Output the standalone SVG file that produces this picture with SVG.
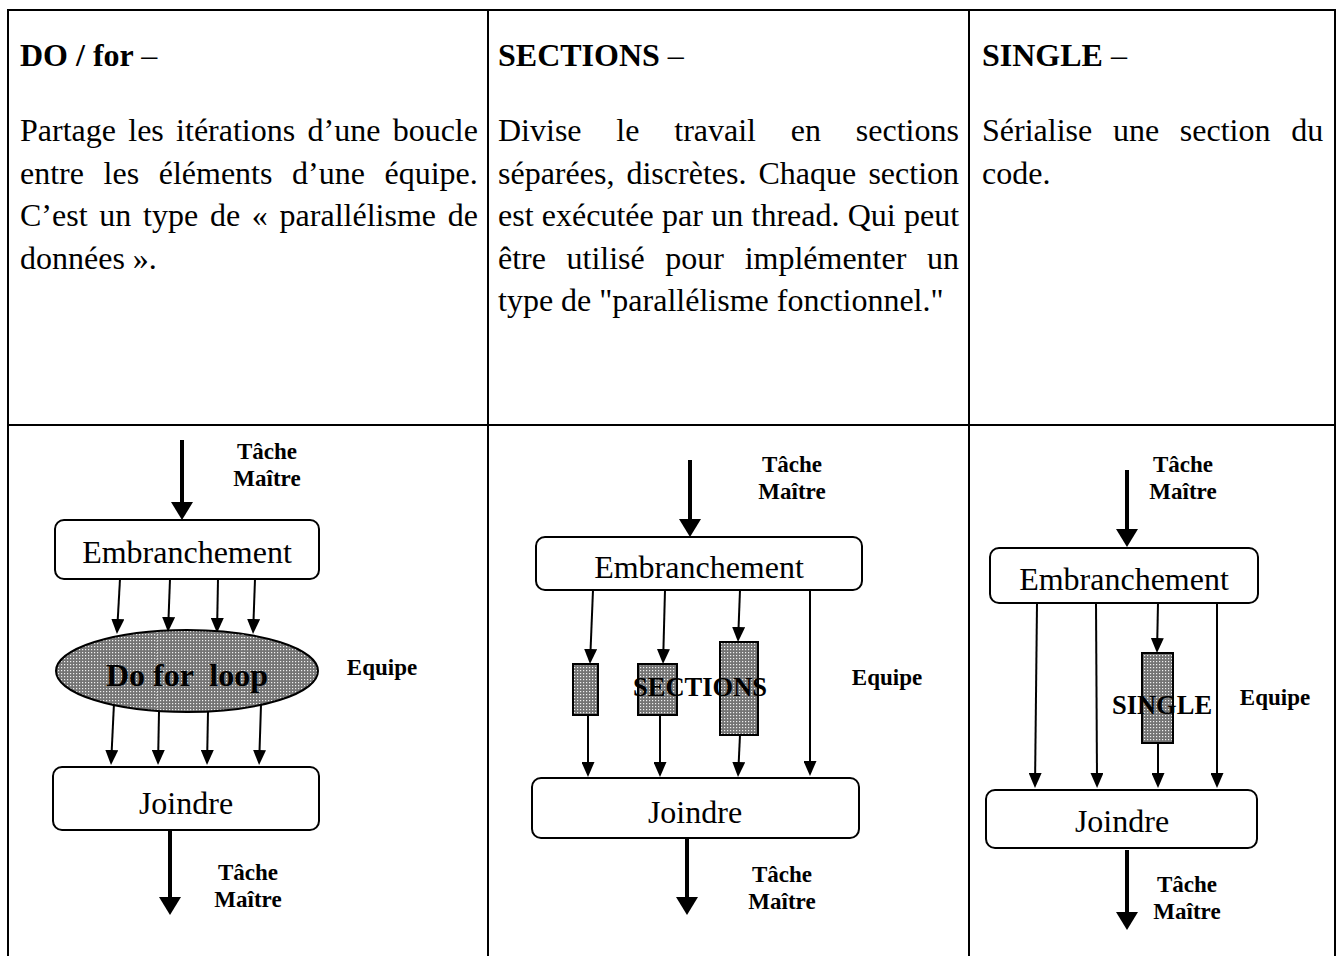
<svg xmlns="http://www.w3.org/2000/svg" width="1343" height="956" viewBox="0 0 1343 956">
  <style>
    .grid { stroke: #000; stroke-width: 2; fill: none; }
    .hd { font-family: "Liberation Serif", "Times New Roman", serif; font-size: 32px; font-weight: bold; fill: #000; }
    .tx { font-family: "Liberation Serif", "Times New Roman", serif; font-size: 32px; fill: #000; }
    .box { fill: #fff; stroke: #000; stroke-width: 2; }
    .lbl { font-family: "Liberation Serif", "Times New Roman", serif; font-size: 32px; fill: #000; text-anchor: middle; }
    .big { font-family: "Liberation Serif", "Times New Roman", serif; font-size: 32px; font-weight: bold; fill: #000; text-anchor: middle; }
    .mid { font-family: "Liberation Serif", "Times New Roman", serif; font-size: 26.5px; font-weight: bold; fill: #000; text-anchor: middle; }
    .sm { font-family: "Liberation Serif", "Times New Roman", serif; font-size: 23px; font-weight: bold; fill: #000; text-anchor: middle; }
    .shade { fill: url(#dots); stroke: #000; stroke-width: 2; }
    .thin { stroke: #000; stroke-width: 2; fill: none; marker-end: url(#head); }
    .thick { stroke: #000; stroke-width: 4; fill: none; marker-end: url(#headBig); }
    .trace { stroke: #fff; stroke-width: 1; stroke-dasharray: 1 2; opacity: 0.7; }
  </style>
  <defs>
    <pattern id="dots" width="3" height="3" patternUnits="userSpaceOnUse">
      <rect width="3" height="3" fill="#747474"/>
      <rect x="1" y="1" width="1.2" height="1.2" fill="#f0f0f0"/>
    </pattern>
    <marker id="head" viewBox="0 0 15 13" refX="5" refY="6.5" markerWidth="15" markerHeight="13" markerUnits="userSpaceOnUse" orient="auto">
      <path d="M0,0 L15,6.5 L0,13 Z" fill="#000"/>
    </marker>
    <marker id="headBig" viewBox="0 0 18 22" refX="6" refY="11" markerWidth="18" markerHeight="22" markerUnits="userSpaceOnUse" orient="auto">
      <path d="M0,0 L18,11 L0,22 Z" fill="#000"/>
    </marker>
  </defs>

  <rect width="1343" height="956" fill="#fff"/>

  <!-- table frame -->
  <g id="table">
    <path class="grid" d="M8,956 V10 H1335 V956 M8,425 H1335 M488,10 V956 M969,10 V956"/>
  </g>

  <!-- description row -->
  <g id="desc-do">
    <text class="hd" x="20" y="66">DO / for <tspan font-weight="normal">–</tspan></text>
    <text class="tx" x="20" y="141" word-spacing="4.3">Partage les itérations d’une boucle</text>
    <text class="tx" x="20" y="184" word-spacing="11.6">entre les éléments d’une équipe.</text>
    <text class="tx" x="20" y="226" word-spacing="3.75">C’est un type de « parallélisme de</text>
    <text class="tx" x="20" y="269">données ».</text>
  </g>
  <g id="desc-sections">
    <text class="hd" x="498" y="66">SECTIONS <tspan font-weight="normal">–</tspan></text>
    <text class="tx" x="498" y="141" word-spacing="26.8">Divise le travail en sections</text>
    <text class="tx" x="498" y="184" word-spacing="4.1">séparées, discrètes. Chaque section</text>
    <text class="tx" x="498" y="226" word-spacing="0.3">est exécutée par un thread. Qui peut</text>
    <text class="tx" x="498" y="269" word-spacing="12.6">être utilisé pour implémenter un</text>
    <text class="tx" x="498" y="311">type de "parallélisme fonctionnel."</text>
  </g>
  <g id="desc-single">
    <text class="hd" x="982" y="66">SINGLE <tspan font-weight="normal">–</tspan></text>
    <text class="tx" x="982" y="141" word-spacing="12.7">Sérialise une section du</text>
    <text class="tx" x="982" y="184">code.</text>
  </g>

  <!-- connectors -->
  <g id="connectors">
    <!-- DO / for -->
    <path class="thick" d="M182,440 V508"/>
    <path class="thin" d="M120,579 L117.5,624"/>
    <path class="thin" d="M170,579 L168.4,622"/>
    <path class="thin" d="M218,579 L217.2,623"/>
    <path class="thin" d="M255,579 L253.4,624"/>
    <path class="thin" d="M114,703 L111.5,755"/>
    <path class="thin" d="M159,712 L158.2,755"/>
    <path class="thin" d="M208,712 L207.2,755"/>
    <path class="thin" d="M261,705 L259.4,755"/>
    <path class="thick" d="M170,830 V903"/>
    <!-- SECTIONS -->
    <path class="thick" d="M690,460 V525"/>
    <path class="thin" d="M593,590 L590.4,654"/>
    <path class="thin" d="M665,590 L663.3,654"/>
    <path class="thin" d="M740,590 L738.4,632"/>
    <path class="thin" d="M810,590 V766"/>
    <path class="thin" d="M588,715 V767"/>
    <path class="thin" d="M660,715 V767"/>
    <path class="thin" d="M740,735 L738.5,767"/>
    <path class="thick" d="M687,838 V903"/>
    <!-- SINGLE -->
    <path class="thick" d="M1127,470 V535"/>
    <path class="thin" d="M1037,603 L1035.1,778"/>
    <path class="thin" d="M1096,603 L1097,778"/>
    <path class="thin" d="M1158,603 L1157.2,643"/>
    <path class="thin" d="M1217,603 V778"/>
    <path class="thin" d="M1158,743 V778"/>
    <path class="thick" d="M1127,850 V918"/>
  </g>

  <!-- DO / for diagram -->
  <g id="do-master-in">
    <text class="sm" x="267" y="459">Tâche</text>
    <text class="sm" x="267" y="486">Maître</text>
  </g>
  <g id="do-fork">
    <rect class="box" x="55" y="520" width="264" height="59" rx="9"/>
    <text class="lbl" x="187" y="563">Embranchement</text>
  </g>
  <g id="do-loop">
    <ellipse class="shade" cx="187" cy="671" rx="131" ry="41"/>
    <path class="trace" d="M157,632 V710 M243,634 V707"/>
    <text class="big" x="187" y="686" xml:space="preserve">Do for  loop</text>
  </g>
  <g id="do-team">
    <text class="sm" x="382" y="675">Equipe</text>
  </g>
  <g id="do-join">
    <rect class="box" x="53" y="767" width="266" height="63" rx="9"/>
    <text class="lbl" x="186" y="814">Joindre</text>
  </g>
  <g id="do-master-out">
    <text class="sm" x="248" y="880">Tâche</text>
    <text class="sm" x="248" y="907">Maître</text>
  </g>

  <!-- SECTIONS diagram -->
  <g id="sec-master-in">
    <text class="sm" x="792" y="472">Tâche</text>
    <text class="sm" x="792" y="499">Maître</text>
  </g>
  <g id="sec-fork">
    <rect class="box" x="536" y="537" width="326" height="53" rx="9"/>
    <text class="lbl" x="699" y="578">Embranchement</text>
  </g>
  <g id="sec-blocks">
    <rect class="shade" x="573" y="664" width="25" height="51"/>
    <rect class="shade" x="638" y="664" width="39" height="51"/>
    <rect class="shade" x="720" y="642" width="38" height="93"/>
    <text class="mid" x="700" y="696">SECTIONS</text>
  </g>
  <g id="sec-team">
    <text class="sm" x="887" y="685">Equipe</text>
  </g>
  <g id="sec-join">
    <rect class="box" x="532" y="778" width="327" height="60" rx="9"/>
    <text class="lbl" x="695" y="823">Joindre</text>
  </g>
  <g id="sec-master-out">
    <text class="sm" x="782" y="882">Tâche</text>
    <text class="sm" x="782" y="909">Maître</text>
  </g>

  <!-- SINGLE diagram -->
  <g id="sgl-master-in">
    <text class="sm" x="1183" y="472">Tâche</text>
    <text class="sm" x="1183" y="499">Maître</text>
  </g>
  <g id="sgl-fork">
    <rect class="box" x="990" y="548" width="268" height="55" rx="9"/>
    <text class="lbl" x="1124" y="590">Embranchement</text>
  </g>
  <g id="sgl-block">
    <rect class="shade" x="1142" y="653" width="31" height="90"/>
    <text class="mid" x="1162" y="714">SINGLE</text>
  </g>
  <g id="sgl-team">
    <text class="sm" x="1275" y="705">Equipe</text>
  </g>
  <g id="sgl-join">
    <rect class="box" x="986" y="790" width="271" height="58" rx="9"/>
    <text class="lbl" x="1122" y="832">Joindre</text>
  </g>
  <g id="sgl-master-out">
    <text class="sm" x="1187" y="892">Tâche</text>
    <text class="sm" x="1187" y="919">Maître</text>
  </g>
</svg>
